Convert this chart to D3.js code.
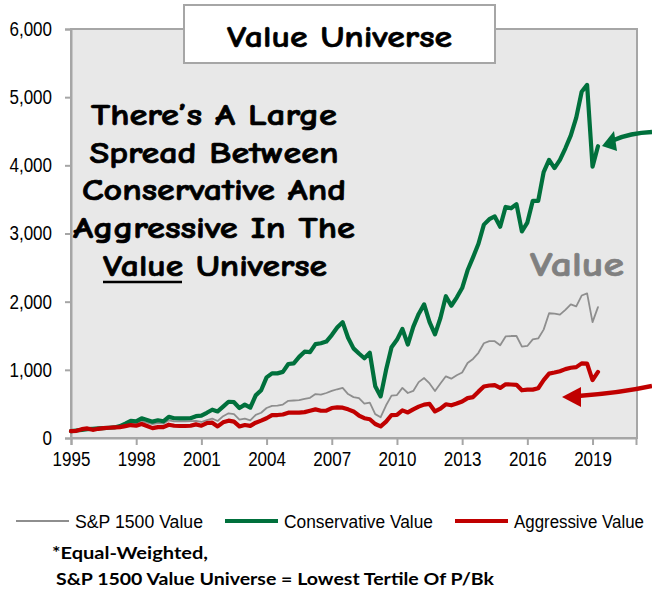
<!DOCTYPE html>
<html><head><meta charset="utf-8">
<script src="https://cdn.jsdelivr.net/npm/d3@7"></script>
<style>
html,body{margin:0;padding:0;background:#fff;}
svg{display:block;}
</style></head>
<body>
<svg id="chart" width="652" height="590"></svg>
<script>
// ---- data (quarterly) ----
const dates = [
1995.00,1995.25,1995.50,1995.75,1996.00,1996.25,1996.50,1996.75,1997.00,1997.25,
1997.50,1997.75,1998.00,1998.25,1998.50,1998.75,1999.00,1999.25,1999.50,1999.75,
2000.00,2000.25,2000.50,2000.75,2001.00,2001.25,2001.50,2001.75,2002.00,2002.25,
2002.50,2002.75,2003.00,2003.25,2003.50,2003.75,2004.00,2004.25,2004.50,2004.75,
2005.00,2005.25,2005.50,2005.75,2006.00,2006.25,2006.50,2006.75,2007.00,2007.25,
2007.50,2007.75,2008.00,2008.25,2008.50,2008.75,2009.00,2009.25,2009.50,2009.75,
2010.00,2010.25,2010.50,2010.75,2011.00,2011.25,2011.50,2011.75,2012.00,2012.25,
2012.50,2012.75,2013.00,2013.25,2013.50,2013.75,2014.00,2014.25,2014.50,2014.75,
2015.00,2015.25,2015.50,2015.75,2016.00,2016.25,2016.50,2016.75,2017.00,2017.25,
2017.50,2017.75,2018.00,2018.25,2018.50,2018.75,2019.00,2019.25];

const sp1500Value = [
100,110,118,125,130,135,140,145,150,165,
190,215,215,245,225,205,220,210,260,245,
245,245,248,250,235,262,285,250,320,362,
350,270,285,258,340,370,440,470,475,490,
545,550,555,575,590,645,635,660,690,715,
735,645,600,585,505,520,350,305,480,621,
630,735,660,690,820,880,800,690,800,905,
870,920,960,1100,1160,1250,1390,1420,1420,1360,
1490,1496,1496,1340,1350,1447,1460,1590,1830,1825,
1810,1880,1960,1930,2090,2121,1700,1920];

const conservativeValue = [
100,110,120,130,135,140,145,150,155,175,
210,250,245,289,265,240,260,245,310,290,
289,289,290,320,328,370,415,390,460,532,
525,440,490,445,625,700,890,948,948,970,
1085,1095,1190,1266,1260,1378,1390,1415,1510,1620,
1700,1470,1315,1240,1170,1250,760,610,1000,1330,
1440,1600,1370,1630,1820,1960,1700,1520,1760,2080,
1940,2060,2200,2460,2650,2850,3130,3210,3250,3100,
3390,3370,3430,3030,3160,3480,3480,3900,4080,3960,
4080,4250,4440,4700,5080,5180,3980,4280];

const aggressiveValue = [
100,105,130,140,120,135,145,150,155,160,
175,190,180,205,175,145,160,160,195,180,
176,176,180,200,180,220,225,170,230,254,
240,170,190,178,225,255,290,335,337,345,
371,371,371,380,400,420,400,400,440,450,
445,420,390,330,290,275,205,170,240,337,
340,405,375,420,460,490,500,390,430,495,
480,505,535,585,600,680,755,770,775,735,
787,785,780,700,710,710,730,850,945,960,
980,1010,1030,1040,1095,1090,850,970];

const seriesNames = ["S&P 1500 Value", "Conservative Value", "Aggressive Value"];
const xTickYears = [1995, 1998, 2001, 2004, 2007, 2010, 2013, 2016, 2019];
const yTicks = [0, 1000, 2000, 3000, 4000, 5000, 6000];
const titleText = "Value Universe";
const annotationLines = ["There\u2019s A Large", "Spread Between", "Conservative And", "Aggressive In The"];
const footnoteLines = ["*Equal-Weighted,", "S&P 1500 Value Universe = Lowest Tertile Of P/Bk"];

// ---- drawing ----
const svg = d3.select("#chart");
const L = 71, R = 637, T = 29, B = 438;
const x = d3.scaleLinear().domain([1995, 2021]).range([L, 636]);
const y = d3.scaleLinear().domain([0, 6000]).range([B, T]);

const AXIS = "#a6a6a6";
const narrow = "'Liberation Sans Narrow','Arial Narrow','Liberation Sans',Arial,sans-serif";
const comic = "'Comic Sans MS','Comic Neue','Open Sans','DejaVu Sans',sans-serif";
const NARROW_K = 0.85;
function condense(sel) {
  sel.each(function() {
    const w = this.getComputedTextLength();
    d3.select(this).attr("textLength", w * NARROW_K).attr("lengthAdjust", "spacingAndGlyphs");
  });
}

svg.append("rect").attr("width", 652).attr("height", 590).attr("fill", "#fff");
// plot area
svg.append("rect").attr("x", L).attr("y", T).attr("width", R - L).attr("height", B - T)
  .attr("fill", "#e8e8e8").attr("stroke", AXIS).attr("stroke-width", 2);

// y axis
const yAxis = d3.axisLeft(y).tickValues(yTicks).tickFormat(d3.format(",")).tickSize(6).tickPadding(13);
const gy = svg.append("g").attr("transform", `translate(${L},0)`).call(yAxis);
gy.select(".domain").attr("stroke", AXIS).attr("stroke-width", 2);
gy.selectAll(".tick line").attr("stroke", AXIS).attr("stroke-width", 2);
gy.selectAll(".tick text").attr("font-family", narrow).attr("font-size", 20).attr("fill", "#000").call(condense);

// x axis
const xAxis = d3.axisBottom(x).tickValues(xTickYears).tickFormat(d3.format("d")).tickSize(7).tickPadding(7);
const gx = svg.append("g").attr("transform", `translate(0,${B})`).call(xAxis);
gx.select(".domain").attr("stroke", AXIS).attr("stroke-width", 2);
gx.selectAll(".tick line").attr("stroke", AXIS).attr("stroke-width", 2);
gx.selectAll(".tick text").attr("font-family", narrow).attr("font-size", 20).attr("fill", "#000").call(condense);

// lines
const colors = ["#8e8e8e", "#00703c", "#c00000"];
const widths = [1.8, 4.2, 4.2];
const allSeries = [sp1500Value, conservativeValue, aggressiveValue];
const line = d3.line().x((d, i) => x(dates[i])).y(d => y(d));
allSeries.forEach((s, k) => {
  svg.append("path").datum(s).attr("d", line).attr("fill", "none")
    .attr("stroke", colors[k]).attr("stroke-width", widths[k])
    .attr("stroke-linejoin", "round").attr("stroke-linecap", "round");
});

// title box
svg.append("rect").attr("x", 184).attr("y", 5).attr("width", 311).attr("height", 58)
  .attr("fill", "#fff").attr("stroke", AXIS).attr("stroke-width", 2);
svg.append("text").attr("x", 339.5).attr("y", 47).attr("text-anchor", "middle")
  .attr("font-family", comic).attr("font-weight", 700).attr("font-size", 30)
  .attr("stroke", "#000").attr("stroke-width", 0.6)
  .attr("textLength", 225).attr("lengthAdjust", "spacingAndGlyphs").text(titleText);

// annotation
const annWidths = [246, 249, 264, 282];
const annBase = [125, 163, 200, 238];
annotationLines.forEach((t, i) => {
  svg.append("text").attr("x", 214).attr("y", annBase[i]).attr("text-anchor", "middle")
    .attr("font-family", comic).attr("font-weight", 700).attr("font-size", 31)
    .attr("stroke", "#000").attr("stroke-width", 0.7)
    .attr("textLength", annWidths[i]).attr("lengthAdjust", "spacingAndGlyphs").text(t);
});
// last line with underlined "Value"
const last = svg.append("text").attr("x", 103).attr("y", 276)
  .attr("font-family", comic).attr("font-weight", 700).attr("font-size", 31)
  .attr("stroke", "#000").attr("stroke-width", 0.7)
  .attr("textLength", 224).attr("lengthAdjust", "spacingAndGlyphs");
last.append("tspan").text("Value");
last.append("tspan").text(" Universe");
svg.append("line").attr("x1", 103).attr("x2", 182).attr("y1", 282).attr("y2", 282)
  .attr("stroke", "#000").attr("stroke-width", 2.5);

// "Value" label
svg.append("text").attr("x", 577).attr("y", 276).attr("text-anchor", "middle")
  .attr("font-family", comic).attr("font-weight", 700).attr("font-size", 34)
  .attr("fill", "#808080").attr("stroke", "#808080").attr("stroke-width", 0.7)
  .attr("textLength", 94).attr("lengthAdjust", "spacingAndGlyphs").text("Value");

// arrows
svg.append("path").attr("d", "M652,132 Q630,133 614,140").attr("fill", "none")
  .attr("stroke", colors[1]).attr("stroke-width", 4.5);
svg.append("path").attr("d", "M602,146 L614,131 L617,151 Z").attr("fill", colors[1]);
svg.append("path").attr("d", "M652,386 Q620,393 578,396").attr("fill", "none")
  .attr("stroke", colors[2]).attr("stroke-width", 4.5);
svg.append("path").attr("d", "M562,397 L581,387 L581,407 Z").attr("fill", colors[2]);

// legend
const legX = [16, 225, 455];
const legW = [53, 53, 53];
const legTextW = [128, 149, 130];
seriesNames.forEach((n, k) => {
  svg.append("line").attr("x1", legX[k]).attr("x2", legX[k] + legW[k]).attr("y1", 521).attr("y2", 521)
    .attr("stroke", colors[k]).attr("stroke-width", k === 0 ? 2 : 4);
  svg.append("text").attr("x", legX[k] + legW[k] + 6).attr("y", 527.5)
    .attr("font-family", narrow).attr("font-size", 17.5).attr("fill", "#000")
    .attr("textLength", legTextW[k]).attr("lengthAdjust", "spacingAndGlyphs").text(n);
});

// footnote
const footX = [52, 56];
const footY = [559, 585];
const footW = [156, 438];
footnoteLines.forEach((t, i) => {
  svg.append("text").attr("x", footX[i]).attr("y", footY[i])
    .attr("font-family", "Lato,'Open Sans',sans-serif").attr("font-weight", 700).attr("font-size", 17)
    .attr("textLength", footW[i]).attr("lengthAdjust", "spacingAndGlyphs").text(t);
});
</script>
</body></html>
